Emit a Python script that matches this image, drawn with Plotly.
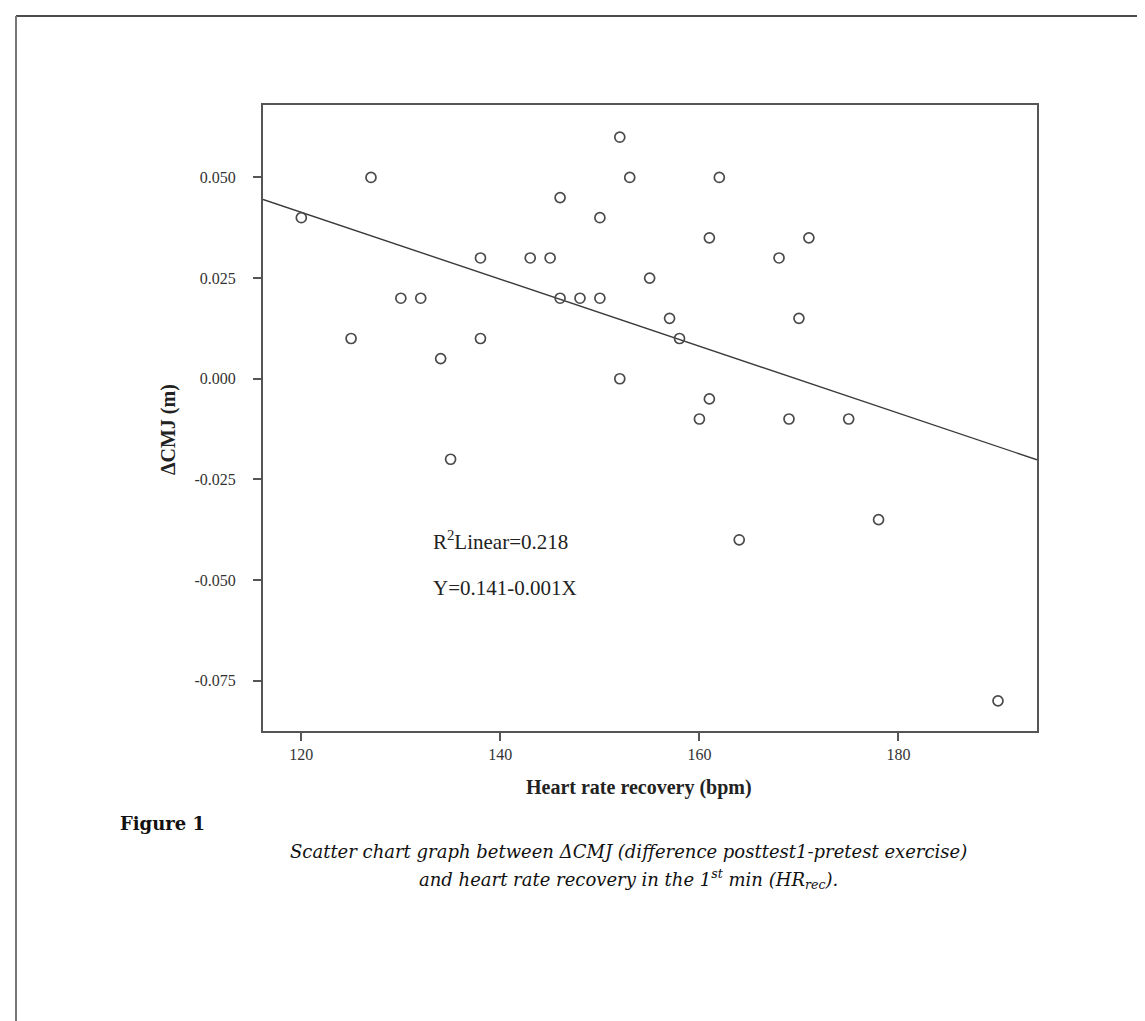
import numpy as np
import plotly.graph_objects as go

# ---- data ----
hr_rec = [120, 127, 138, 130, 132, 125, 138, 134,
          152, 153, 162, 146, 150, 161, 171, 143, 145, 168, 155, 146, 148, 150,
          157, 170, 158, 152, 161, 160, 169, 175,
          135, 164, 178, 190]
delta_cmj = [0.040, 0.050, 0.030, 0.020, 0.020, 0.010, 0.010, 0.005,
             0.060, 0.050, 0.050, 0.045, 0.040, 0.035, 0.035, 0.030, 0.030, 0.030, 0.025, 0.020, 0.020, 0.020,
             0.015, 0.015, 0.010, 0.000, -0.005, -0.010, -0.010, -0.010,
             -0.020, -0.040, -0.035, -0.080]
x_ticks = [120, 140, 160, 180]
y_ticks = [-0.075, -0.050, -0.025, 0.000, 0.025, 0.050]
y_tick_labels = [f"{v:.3f}" for v in y_ticks]
x_range = [116.15, 193.92]
y_range = [-0.0875, 0.0680]
r2_text = "R<sup>2</sup>Linear=0.218"
eq_text = "Y=0.141-0.001X"

# ---- layout geometry (pixels) ----
W, H = 1145, 1021
L, R, T, B = 255, 1029, 97, 723


def px(x):
    return (x - L) / (R - L)


def py(y):
    return (B - y) / (B - T)


slope, intercept = np.polyfit(hr_rec, delta_cmj, 1)
fit_x = np.array(x_range)
fit_y = intercept + slope * fit_x

AX = "#555555"
SERIF = "Liberation Serif, Times New Roman, serif"
CAP = "DejaVu Serif, serif"

fig = go.Figure()
fig.add_trace(go.Scatter(
    x=fit_x, y=fit_y, mode="lines",
    line=dict(color="#3a3a3a", width=1.4), hoverinfo="skip", showlegend=False))
fig.add_trace(go.Scatter(
    x=hr_rec, y=delta_cmj, mode="markers",
    marker=dict(symbol="circle-open", size=10, color="#4a4a4a", line=dict(width=1.7, color="#4a4a4a")),
    showlegend=False))

fig.update_xaxes(range=x_range, tickvals=x_ticks, ticks="outside", ticklen=8, tickwidth=2,
                 tickcolor=AX, showline=True, linecolor=AX, linewidth=2, mirror=True,
                 showgrid=False, zeroline=False,
                 tickfont=dict(family=SERIF, size=16, color="#333333"))
fig.update_yaxes(range=y_range, tickvals=y_ticks, ticktext=y_tick_labels, ticks="outside", ticklen=8, tickwidth=2,
                 tickcolor=AX, showline=True, linecolor=AX, linewidth=2, mirror=True,
                 showgrid=False, zeroline=False, ticklabelstandoff=14,
                 tickfont=dict(family=SERIF, size=16, color="#333333"))

ann = []
ann.append(dict(text=r2_text, x=px(423), y=py(532), xanchor="left", yanchor="middle",
                font=dict(family=SERIF, size=21, color="#222222")))
ann.append(dict(text=eq_text, x=px(423), y=py(580), xanchor="left", yanchor="middle",
                font=dict(family=SERIF, size=21, color="#222222")))
ann.append(dict(text="<b>Heart rate recovery (bpm)</b>", x=px(631), y=py(779), xanchor="center", yanchor="middle",
                font=dict(family=SERIF, size=20, color="#222222")))
ann.append(dict(text="<b>ΔCMJ (m)</b>", x=px(160), y=py(422), xanchor="center", yanchor="middle", textangle=-90,
                font=dict(family=SERIF, size=20, color="#222222")))
ann.append(dict(text="<b>Figure 1</b>", x=px(110), y=py(815), xanchor="left", yanchor="middle",
                font=dict(family=CAP, size=18, color="#111111")))
ann.append(dict(text="<i>Scatter chart graph between ΔCMJ (difference posttest1-pretest exercise)</i>",
                x=px(620), y=py(843), xanchor="center", yanchor="middle",
                font=dict(family=CAP, size=18, color="#111111")))
ann.append(dict(text="<i>and heart rate recovery in the 1<sup>st</sup> min (HR<sub>rec</sub>).</i>",
                x=px(620), y=py(871), xanchor="center", yanchor="middle",
                font=dict(family=CAP, size=18, color="#111111")))
for a in ann:
    a.update(xref="paper", yref="paper", showarrow=False)

shapes = [
    dict(type="line", xref="paper", yref="paper", x0=px(8), x1=px(1145), y0=py(8), y1=py(8),
         line=dict(color="#111111", width=1.5)),
    dict(type="line", xref="paper", yref="paper", x0=px(8), x1=px(8), y0=py(8), y1=py(1021),
         line=dict(color="#777777", width=2)),
]

fig.update_layout(width=W, height=H, margin=dict(l=L, r=W - R, t=T, b=H - B, autoexpand=False),
                  paper_bgcolor="white", plot_bgcolor="white",
                  annotations=ann, shapes=shapes)

fig.write_html("out.html")
